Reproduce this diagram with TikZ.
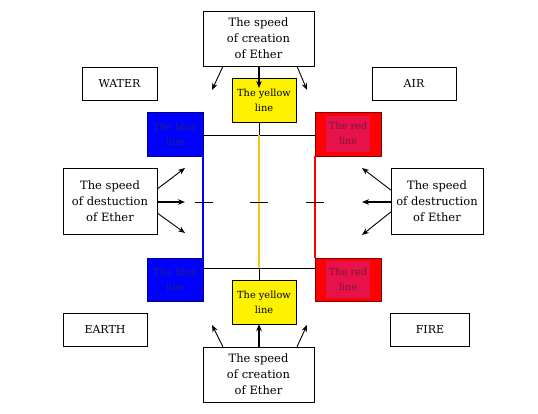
\documentclass[tikz,border=0pt]{standalone}
\usepackage{fontspec}
\setmainfont{DejaVu Serif}
\usetikzlibrary{arrows.meta}
\usepackage{xcolor}

\definecolor{lineyellow}{RGB}{245,196,20}
\definecolor{bluetext}{RGB}{35,35,115}
\definecolor{redtext}{RGB}{125,20,55}
\definecolor{redpatch}{RGB}{232,18,75}

\begin{document}
\begin{tikzpicture}[
    x=1pt, y=-1pt,
    speed/.style={draw, align=center, font=\fontsize{11.5}{16}\selectfont, minimum width=111pt, minimum height=55pt, inner sep=1pt},
    elem/.style={draw, align=center, font=\fontsize{11}{12}\selectfont, minimum height=33pt},
    colbox/.style={draw, align=center, font=\fontsize{9.8}{15}\selectfont, minimum height=44pt, inner sep=1pt},
    arr/.style={-{Stealth[length=7pt,width=5.5pt]}, line width=0.9pt},
    arrthick/.style={-{Stealth[length=7pt,width=5.5pt]}, line width=1.8pt}
]
\useasboundingbox (0,0) rectangle (538,414);

% text boxes
\node[speed] (topspeed) at (258.5,38.5) {The speed\\ of creation\\ of Ether};
\node[speed] (botspeed) at (258.5,374.5) {The speed\\ of creation\\ of Ether};
\node[speed, minimum width=94pt, minimum height=66pt] (destleft) at (110,201) {The speed\\ of destuction\\ of Ether};
\node[speed, minimum width=92pt, minimum height=66pt] (destright) at (437,201) {The speed\\ of destruction\\ of Ether};

% elements
\node[elem, minimum width=75pt] (water) at (119.5,83.5) {WATER};
\node[elem, minimum width=84pt] (air) at (414,83.5) {AIR};
\node[elem, minimum width=84pt] (earth) at (105,329.5) {EARTH};
\node[elem, minimum width=79pt] (fire) at (430,329.5) {FIRE};

% coloured boxes
\node[colbox, fill=yellow, minimum width=64pt] (yellowtop) at (264,100) {The yellow\\ line};
\node[colbox, fill=yellow, minimum width=64pt] (yellowbot) at (264,302) {The yellow\\ line};
\node[colbox, fill=blue, draw=blue!50!black, text=bluetext, minimum width=56pt] (bluetop) at (175,134) {The blue\\ line};
\node[colbox, fill=blue, draw=blue!50!black, text=bluetext, minimum width=56pt, minimum height=43pt] (bluebot) at (175,279.5) {The blue\\ line};
\node[colbox, fill=red, draw=red!50!black, text=redtext, minimum width=66pt] (redtop) at (348,134) {\colorbox{redpatch}{\begin{tabular}{@{}c@{}}The red\\ line\end{tabular}}};
\node[colbox, fill=red, draw=red!50!black, text=redtext, minimum width=66pt, minimum height=43pt] (redbot) at (348,279.5) {\colorbox{redpatch}{\begin{tabular}{@{}c@{}}The red\\ line\end{tabular}}};

% frame
\coordinate (ytop) at (259,135);
\coordinate (ybot) at (259,268);
\draw[line width=0.8pt] (203,135) -- (315,135);
\draw[line width=0.8pt] (203,268) -- (315,268);
\draw[blue, line width=1.8pt] (bluetop.south east) -- (bluebot.north east);
\draw[red, line width=1.8pt] (redtop.south west) -- (redbot.north west);
\draw[lineyellow, line width=1.8pt] (ytop) -- (ybot);
\draw[line width=0.8pt] (ytop |- yellowtop.south) -- (ytop);
\draw[line width=0.8pt] (ybot) -- (ybot |- yellowbot.north);

% dashes
\draw[line width=0.8pt] (195,202) -- (213,202);
\draw[line width=0.8pt] (250,202) -- (268,202);
\draw[line width=0.8pt] (306,202) -- (324,202);

% arrow ends
\coordinate (tl) at (212,90);
\coordinate (tm) at (259,88);
\coordinate (tr) at (307,90);
\coordinate (bl) at (212,325);
\coordinate (br) at (307,325);
\coordinate (lu) at (185,168);
\coordinate (lm) at (185,202);
\coordinate (ld) at (185,233);
\coordinate (ru) at (362,168);
\coordinate (rm) at (362,202);
\coordinate (rd) at (362,235);

\draw[arr] ([xshift=-35.5pt]topspeed.south) -- (tl);
\draw[arrthick] (tm |- topspeed.south) -- (tm);
\draw[arr] ([xshift=38.5pt]topspeed.south) -- (tr);

\draw[arr] ([xshift=-35.5pt]botspeed.north) -- (bl);
\draw[arrthick] (ybot |- botspeed.north) -- (ybot |- yellowbot.south);
\draw[arr] ([xshift=38.5pt]botspeed.north) -- (br);

\draw[arr] ([yshift=12pt]destleft.east) -- (lu);
\draw[arrthick] ([yshift=-1pt]destleft.east) -- (lm);
\draw[arr] ([yshift=-12pt]destleft.east) -- (ld);

\draw[arr] ([yshift=11pt]destright.west) -- (ru);
\draw[arrthick] ([yshift=-1pt]destright.west) -- (rm);
\draw[arr] ([yshift=-11pt]destright.west) -- (rd);
\end{tikzpicture}
\end{document}
